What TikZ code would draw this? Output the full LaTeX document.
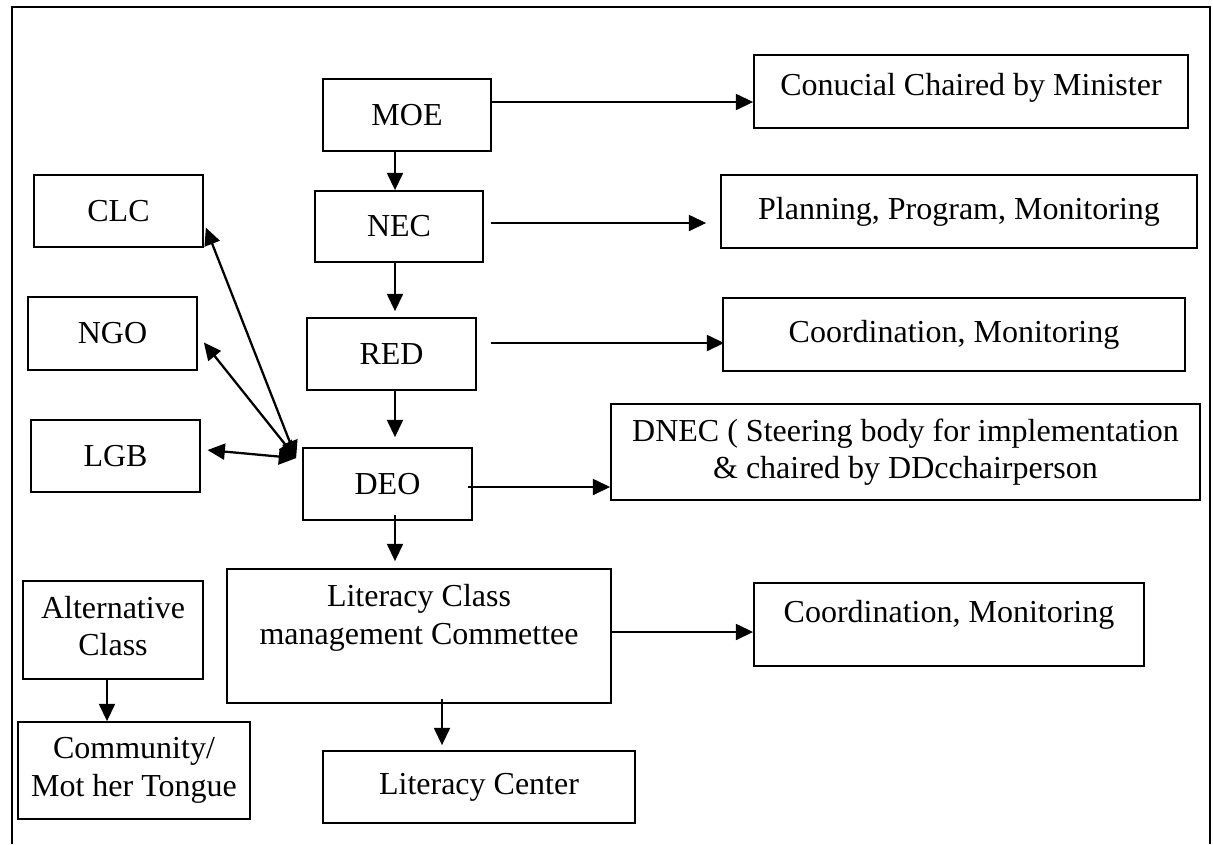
\documentclass[tikz,border=0pt]{standalone}
\usepackage{fontspec}
\setmainfont{Liberation Serif}
\usetikzlibrary{arrows.meta}
\tikzset{
  box/.style={draw, line width=1.3pt, inner sep=0pt, align=center,
    font=\fontsize{24}{28}\selectfont},
  txt/.style={inner sep=0pt, align=center, font=\fontsize{24}{28}\selectfont},
  arr/.style={line width=1.7pt, -{Triangle[length=13pt,width=12pt]}},
  darr/.style={line width=1.7pt, {Triangle[length=13pt,width=12pt]}-{Triangle[length=13pt,width=12pt]}},
  frame/.style={line width=1.5pt}
}
\begin{document}
\begin{tikzpicture}[x=0.75pt,y=-0.75pt]
\useasboundingbox (0,0) rectangle (1213,844);
\draw[frame] (12,844) -- (12,7) -- (1210,7) -- (1210,844);

\node[box, minimum width=168*0.75pt, minimum height=72*0.75pt] (moe) at (407,115) {MOE};
\node[box, minimum width=434*0.75pt, minimum height=73*0.75pt,
  label={[txt,yshift=3pt]center:Conucial Chaired by Minister}] (con) at (971,91.5) {};
\node[box, minimum width=168*0.75pt, minimum height=71*0.75pt] (nec) at (399,226.5) {NEC};
\node[box, minimum width=476*0.75pt, minimum height=73*0.75pt] (plan) at (959,211.5) {Planning, Program, Monitoring};
\node[box, minimum width=169*0.75pt, minimum height=72*0.75pt] (clc) at (118.5,211) {CLC};
\node[box, minimum width=169*0.75pt, minimum height=73*0.75pt] (ngo) at (112.5,333.5) {NGO};
\node[box, minimum width=169*0.75pt, minimum height=72*0.75pt] (red) at (391.5,354) {RED};
\node[box, minimum width=462*0.75pt, minimum height=73*0.75pt] (coa) at (954,334.5) {Coordination, Monitoring};
\node[box, minimum width=169*0.75pt, minimum height=72*0.75pt] (lgb) at (115.5,456) {LGB};
\node[box, minimum width=169*0.75pt, minimum height=72*0.75pt] (deo) at (387.5,484) {DEO};
\node[box, minimum width=589*0.75pt, minimum height=96*0.75pt] (dnec) at (905.5,452)
  {DNEC ( Steering body for implementation\\ \& chaired by DDcchairperson};
\node[box, minimum width=384*0.75pt, minimum height=134*0.75pt,
  label={[txt,yshift=13.5pt]center:Literacy Class\\ management Commettee}] (lit) at (419,636) {};
\node[box, minimum width=390*0.75pt, minimum height=83*0.75pt,
  label={[txt,yshift=7pt]center:Coordination, Monitoring}] (cob) at (949,624.5) {};
\node[box, minimum width=180*0.75pt, minimum height=98*0.75pt,
  label={[txt,yshift=3pt]center:Alternative\\ Class}] (alt) at (113,630) {};
\node[box, minimum width=232*0.75pt, minimum height=97*0.75pt] (com) at (134,770.5) {Community/\\ Mot her Tongue};
\node[box, minimum width=312*0.75pt, minimum height=72*0.75pt] (cen) at (479,787) {Literacy Center};

% connectors
\draw[arr] ([yshift=9.75pt]moe.east) -- ([yshift=-7.875pt]con.west);
\draw[arr] ([xshift=-9pt]moe.south) -- ([xshift=-3pt]nec.north);
\draw[arr] ([xshift=5.25pt,yshift=2.625pt]nec.east) -- ([xshift=-10.5pt,yshift=-8.625pt]plan.west);
\draw[arr] ([xshift=-3pt]nec.south) -- ([xshift=2.625pt,yshift=4.5pt]red.north);
\draw[arr] ([xshift=10.5pt,yshift=8.25pt]red.east) -- ([xshift=1.5pt,yshift=-6.375pt]coa.west);
\draw[arr] ([xshift=2.625pt]red.south) -- ([xshift=5.625pt,yshift=7.5pt]deo.north);
\draw[arr] ([xshift=-3.75pt,yshift=-2.25pt]deo.east) -- ([yshift=-26.25pt]dnec.west);
\draw[arr] ([xshift=5.625pt,yshift=4.5pt]deo.south) -- ([xshift=-18pt,yshift=5.25pt]lit.north);
\draw[arr] ([yshift=3pt]lit.east) -- ([yshift=-5.625pt]cob.west);
\draw[arr] ([xshift=17.25pt,yshift=3.75pt]lit.south) -- ([xshift=-27.75pt,yshift=3.75pt]cen.north);
\draw[arr] ([xshift=-4.5pt]alt.south) -- ([xshift=-20.25pt]com.north);

\draw[darr] ([xshift=-4.5pt,yshift=-8.25pt]deo.north west) -- ([xshift=1.5pt]clc.-11);
\draw[darr] ([xshift=-4.5pt,yshift=-8.25pt]deo.north west) -- ([xshift=4.5pt]ngo.-6);
\draw[darr] ([xshift=-4.5pt,yshift=-8.25pt]deo.north west) -- ([xshift=5pt]lgb.4);
\end{tikzpicture}
\end{document}
